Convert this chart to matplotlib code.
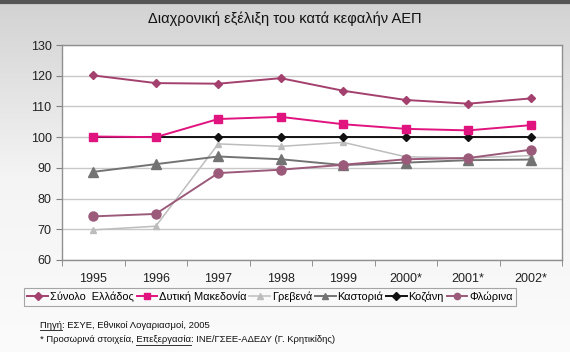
import numpy as np
import matplotlib.pyplot as plt
from matplotlib.lines import Line2D

plt.rcParams['font.family'] = ['Liberation Sans', 'DejaVu Sans']

years = ['1995', '1996', '1997', '1998', '1999', '2000*', '2001*', '2002*']
ellada = [120.1, 117.6, 117.4, 119.2, 115.1, 112.1, 110.9, 112.6]
dyt_makedonia = [100.2, 100.0, 105.9, 106.6, 104.2, 102.7, 102.2, 103.9]
grevena = [69.8, 71.0, 97.8, 97.0, 98.3, 93.6, 93.2, 94.0]
kastoria = [88.7, 91.2, 93.7, 92.8, 90.9, 91.7, 92.5, 92.7]
kozani = [100, 100, 100, 100, 100, 100, 100, 100]
florina = [74.2, 75.0, 88.3, 89.4, 91.0, 92.8, 93.2, 95.9]

fig = plt.figure(figsize=(5.7, 3.52), dpi=100)

# gray gradient background
bg = fig.add_axes([0, 0, 1, 1], zorder=-10)
grad = np.linspace(0, 1, 256).reshape(-1, 1)
bg.imshow(grad, aspect='auto', cmap=plt.matplotlib.colors.LinearSegmentedColormap.from_list(
    'g', ['#d2d2d2', '#f4f4f4', '#fbfbfb']), extent=[0, 1, 0, 1])
bg.set_xlim(0, 1)
bg.set_ylim(0, 1)
bg.axis('off')
bg.plot([0, 1], [0.995, 0.995], color='#555555', lw=3)

ax = fig.add_axes([62 / 570, 1 - 260 / 352, 500 / 570, 215 / 352])
ax.set_facecolor('white')
x = np.arange(len(years))

ax.plot(x, ellada, color='#a3406e', marker='D', ms=4.5, lw=1.4, label='Σύνολο  Ελλάδος', zorder=5)
ax.plot(x, dyt_makedonia, color='#e0137f', marker='s', ms=6, lw=1.4, label='Δυτική Μακεδονία', zorder=5)
ax.plot(x, grevena, color='#bdbdbd', marker='^', ms=5, lw=1.1, label='Γρεβενά', zorder=3)
ax.plot(x, kastoria, color='#737373', marker='^', ms=6.5, lw=1.4, label='Καστοριά', zorder=4)
ax.plot(x, kozani, color='#111111', marker='D', ms=4, lw=1.4, label='Κοζάνη', zorder=4)
ax.plot(x, florina, color='#9b5a7a', marker='o', ms=6.5, lw=1.4, label='Φλώρινα', zorder=5)

ax.set_xlim(-0.5, 7.5)
ax.set_ylim(60, 130)
ax.set_yticks(range(60, 131, 10))
ax.set_xticks(x)
ax.set_xticklabels(years)
ax.set_xticks(np.arange(-0.5, 8, 1), minor=True)
ax.tick_params(axis='x', which='major', length=0, pad=9, labelsize=9, colors='#222222')
ax.tick_params(axis='x', which='minor', length=4, color='#808080')
ax.tick_params(axis='y', length=4, color='#808080', labelsize=9, labelcolor='#222222')
ax.yaxis.grid(True, color='#c8c8c8', lw=1)
ax.set_axisbelow(True)
for s in ax.spines.values():
    s.set_color('#909090')
    s.set_linewidth(1)

fig.text(0.5, 1 - 19 / 352, 'Διαχρονική εξέλιξη του κατά κεφαλήν ΑΕΠ',
         ha='center', va='center', fontsize=10.5, color='#111111')

leg = fig.legend(loc='center', bbox_to_anchor=(270 / 570, 1 - 297 / 352), ncol=6,
                 fontsize=7.9, frameon=True, fancybox=False, handlelength=1.9,
                 handletextpad=0.15, columnspacing=0.25, borderpad=0.35, borderaxespad=0)
leg.get_frame().set_edgecolor('#909090')
leg.get_frame().set_facecolor('#fafafa')
leg.get_frame().set_linewidth(0.8)
for h in leg.legend_handles:
    h.set_markersize(4.5)

fs = 6.8
t1 = fig.text(40 / 570, 1 - 325 / 352, 'Πηγή: ΕΣΥΕ, Εθνικοί Λογαριασμοί, 2005',
              fontsize=fs, va='center', color='#111111')
t2 = fig.text(40 / 570, 1 - 340 / 352,
              '* Προσωρινά στοιχεία, Επεξεργασία: ΙΝΕ/ΓΣΕΕ-ΑΔΕΔΥ (Γ. Κρητικίδης)',
              fontsize=fs, va='center', color='#111111')

# underline "Πηγή" and "Επεξεργασία"
fig.canvas.draw()
r = fig.canvas.get_renderer()
def underline(txt, full, word, y_px):
    pre = full[:full.index(word)]
    tmp = fig.text(0, 0, pre if pre else word, fontsize=fs)
    w0 = tmp.get_window_extent(r).width if pre else 0
    tmp.set_text(word)
    w1 = tmp.get_window_extent(r).width
    tmp.remove()
    x0 = txt.get_window_extent(r).x0 + w0
    fig.add_artist(Line2D([x0 / 570, (x0 + w1) / 570], [1 - y_px / 352] * 2,
                          color='#111111', lw=0.6))
underline(t1, t1.get_text(), 'Πηγή', 330)
underline(t2, t2.get_text(), 'Επεξεργασία', 345)

fig.savefig('out.png', dpi=100)
